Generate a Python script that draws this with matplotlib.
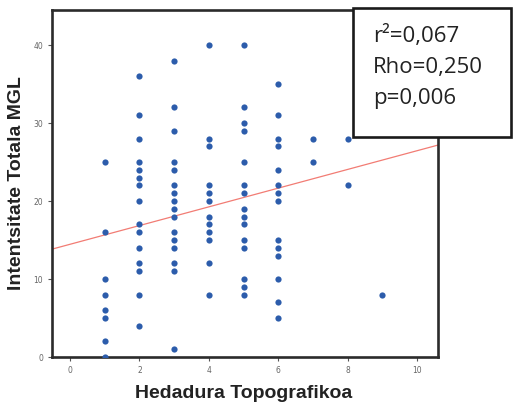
import numpy as np
import matplotlib
matplotlib.use("Agg")
import matplotlib.pyplot as plt
from matplotlib.patches import Rectangle

# values, one list per x column
x_vals = [1, 2, 3, 4, 5, 6, 7, 8, 9]
y_cols = [
    [25, 16, 10, 8, 6, 5, 2, 0],
    [36, 31, 28, 25, 24, 23, 22, 20, 17, 16, 14, 12, 11, 8, 4],
    [38, 32, 29, 25, 24, 22, 21, 20, 19, 18, 16, 15, 14, 12, 11, 1],
    [40, 28, 27, 22, 21, 20, 18, 17, 16, 15, 12, 8],
    [40, 32, 30, 29, 25, 22, 21, 19, 18, 17, 15, 14, 10, 9, 8],
    [35, 31, 28, 27, 24, 22, 21, 20, 15, 14, 13, 10, 7, 5],
    [28, 25],
    [28, 22],
    [8],
]
fit_intercept = 14.45
fit_slope = 1.2
stats_lines = ["r²=0,067", "Rho=0,250", "p=0,006"]
xticks = [0, 2, 4, 6, 8, 10]
yticks = [0, 10, 20, 30, 40]

xs = np.concatenate([[x] * len(c) for x, c in zip(x_vals, y_cols)])
ys = np.concatenate(y_cols)

fig = plt.figure(figsize=(5.14, 4.05), dpi=100)
ax = fig.add_axes([0.101, 0.1185, 0.751, 0.857])

ax.scatter(xs, ys, s=20, color="#2c5cab", zorder=3, linewidths=0)

xlim = (-0.52, 10.6)
lx = np.array(xlim)
ax.plot(lx, fit_intercept + fit_slope * lx, color="#f27c74", lw=0.9, zorder=2)

ax.set_xlim(*xlim)
ax.set_ylim(0, 44.5)
ax.set_xticks(xticks)
ax.set_yticks(yticks)
ax.tick_params(labelsize=5.5, labelcolor="#666666", color="#555555",
               length=3, width=0.8, direction="out")
for sp in ax.spines.values():
    sp.set_color("#2b2b2b")
    sp.set_linewidth(1.9)

# axis labels placed by figure pixel position
fig.text(244 / 514, 1 - 393 / 405, "Hedadura Topografikoa", fontsize=14,
         fontweight="bold", color="#222222", family="Liberation Sans",
         ha="center", va="center")
fig.text(17 / 514, 1 - 183 / 405, "Intentsitate Totala MGL", fontsize=14,
         fontweight="bold", color="#222222", family="Liberation Sans",
         ha="center", va="center", rotation=90)

# stats box on top of the axes corner
box = Rectangle((0.687, 0.662), 0.308, 0.318, transform=fig.transFigure,
                facecolor="white", edgecolor="#1a1a1a", lw=1.9, zorder=5)
fig.patches.append(box)
for i, s in enumerate(stats_lines):
    fig.text(0.726, 0.912 - i * 0.078, s, fontsize=16, color="#222222",
             family="Open Sans", va="center", ha="left", zorder=6)

fig.savefig("out.png", dpi=100)
